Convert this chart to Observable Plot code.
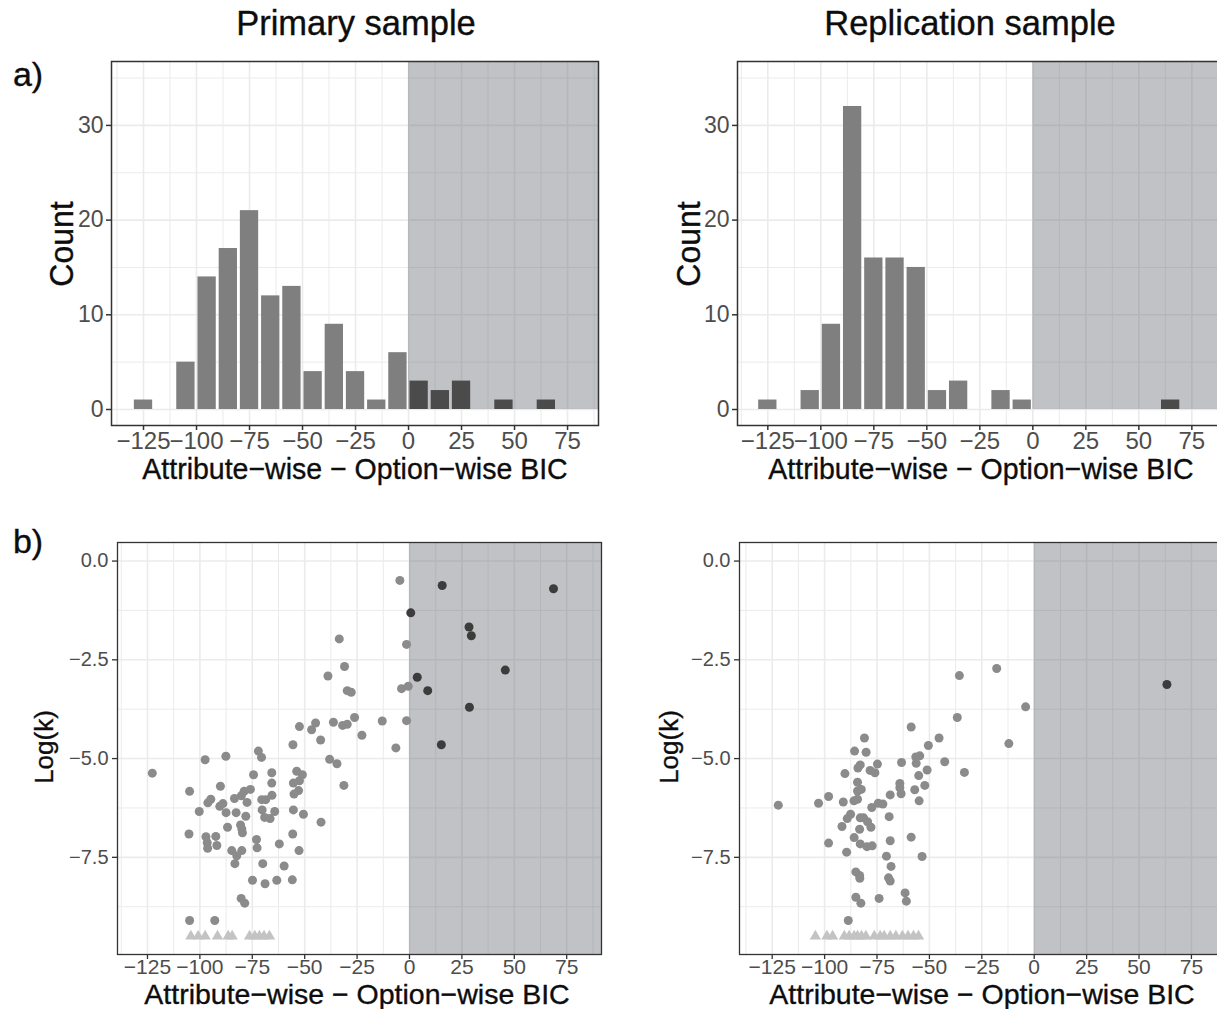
<!DOCTYPE html>
<html><head><meta charset="utf-8">
<script src="https://cdn.jsdelivr.net/npm/d3@7"></script>
<script src="https://cdn.jsdelivr.net/npm/@observablehq/plot@0.6"></script>
<style>
body{margin:0;background:#fff;}
#wrap{position:relative;width:1217px;height:1009px;overflow:hidden;font-family:"Liberation Sans",Arial,Helvetica,sans-serif;background:#fff;}
.t{position:absolute;white-space:nowrap;line-height:1;transform:translate(-50%,-50%) scaleX(var(--sx,1));color:#0d0d0d;-webkit-text-stroke:0.35px #0d0d0d;}
.r{transform:translate(-50%,-50%) rotate(-90deg) scaleX(var(--sx,1));}
.p{position:absolute;}
</style></head><body><div id="wrap"></div>
<script>
// ---------- data ----------
const binWidth = 10;
const binCenters = [-125,-115,-105,-95,-85,-75,-65,-55,-45,-35,-25,-15,-5,5,15,25,35,45,55,65];
const primaryCounts     = [1,0,5,14,17,21,12,13,4,9,4,1,6,3,2,3,0,1,0,1];
const replicationCounts = [1,0,2,9,32,16,16,15,2,3,0,2,1,0,0,0,0,0,0,1];

const xMajorTicks = [-125,-100,-75,-50,-25,0,25,50,75];
const xMinorTicks = [-137.5,-112.5,-87.5,-62.5,-37.5,-12.5,12.5,37.5,62.5,87.5];
const countTicks = [0,10,20,30];
const countMinor = [5,15,25,35];
const logkTicks = [0,-2.5,-5,-7.5];
const logkMinor = [-1.25,-3.75,-6.25,-8.75];
const shadeFrom = 0;
const floorLogK = -9.5;

const primaryBIC = [15.6,68.7,0.6,28.4,29.5,45.7,3.7,8.7,28.6,15.2,
 -4.6,-1.4,-33.5,-31,-38.9,-29.7,-27.8,-3.8,-0.6,-52.5,-46.7,-44.8,-36.3,-31.9,-29.7,-26.2,-13,-1.4,-22.7,-42.4,
 -55.6,-6.5,-38.1,-34.6,-31.3,-72.1,-70.6,-87.6,-97.5,-122.7,-104.9,-74.4,-65.7,-65.7,-53.8,-51.1,-52.5,-55.4,-52.9,-55.1,
 -90.2,-75.9,-78.9,-80.2,-83.5,-77.5,-65.6,-70.5,-68.6,-94.8,-96.2,-90.5,-89,-87.5,-100.3,-82.7,-78.1,-70.3,-64.3,-69.1,
 -66.5,-55.4,-50.6,-42.2,-86.8,-80.6,-80,-79.7,-105.2,-97.1,-92.4,-96.5,-91.9,-96.3,-73,-55.7,-62.1,-72.7,-52.7,-84.8,
 -80,-82.4,-83.3,-70,-59.8,-74.9,-68.9,-63.3,-55.9,-80.3,-78.6,-104.9,-92.9];
const primaryLogK = [-0.62,-0.70,-1.31,-1.67,-1.89,-2.76,-2.94,-3.28,-3.70,-4.65,
 -0.49,-2.11,-1.97,-2.67,-2.91,-3.28,-3.32,-3.23,-3.17,-4.19,-4.27,-4.10,-4.08,-4.16,-4.13,-3.96,-4.05,-4.04,-4.41,-4.53,
 -4.65,-4.73,-5.02,-5.13,-5.68,-4.81,-4.97,-4.94,-5.03,-5.37,-5.83,-5.41,-5.36,-5.62,-5.32,-5.41,-5.56,-5.62,-5.81,-5.90,
 -5.70,-5.78,-5.83,-5.94,-6.01,-6.11,-5.93,-6.04,-6.04,-6.03,-6.12,-6.21,-6.14,-6.37,-6.34,-6.37,-6.46,-6.30,-6.34,-6.49,
 -6.52,-6.30,-6.41,-6.61,-6.74,-6.68,-6.78,-6.88,-6.91,-6.98,-6.97,-7.13,-7.20,-7.27,-7.05,-6.91,-7.16,-7.26,-7.33,-7.33,
 -7.33,-7.46,-7.66,-7.66,-7.72,-8.08,-8.17,-8.08,-8.07,-8.54,-8.66,-9.10,-9.10];
const primaryFloorBIC = [-104.3,-100.8,-97.5,-91.6,-86.5,-84.6,-76.3,-73.8,-71.6,-69.4,-66.8];

const replicationBIC = [63.3,
 -17.9,-35.7,-4.1,-36.7,-58.7,-12.1,-45.4,-50.5,-81,-85.7,-80.2,-56.5,-54.6,-56.3,-42.7,-63.3,-74.8,-83,-84.1,-90.3,
 -78.3,-76,-51.1,-55.1,-33.3,-84.3,-64.1,-64.1,-52.2,-84.3,-82.5,-57,-63.5,-68.7,-98.1,-84.3,-86,-91.1,-102.9,-122.1,
 -74.4,-72.2,-77.5,-54.9,-87.6,-89.2,-83,-81.4,-79.5,-77.9,-91.7,-83.3,-69.2,-85.9,-98.1,-83,-79.8,-77.3,-68.7,-58.7,
 -89.5,-70.5,-53.5,-68.3,-85.1,-83.3,-83.2,-69.5,-68.7,-85.1,-82.7,-74,-61.6,-61,-88.7];
const replicationLogK = [-3.125,
 -2.72,-2.90,-3.69,-3.96,-4.20,-4.62,-4.48,-4.67,-4.48,-4.81,-4.84,-4.96,-4.93,-5.12,-5.08,-5.10,-5.14,-5.16,-5.24,-5.38,
 -5.30,-5.36,-5.29,-5.43,-5.35,-5.60,-5.63,-5.74,-5.68,-5.82,-5.78,-5.79,-5.89,-5.92,-5.96,-6.03,-6.07,-6.10,-6.13,-6.18,
 -6.13,-6.15,-6.24,-6.07,-6.41,-6.52,-6.50,-6.50,-6.60,-6.74,-6.72,-6.79,-6.47,-7.00,-7.14,-7.16,-7.23,-7.21,-7.08,-6.99,
 -7.37,-7.47,-7.48,-7.73,-7.87,-7.96,-8.03,-8.02,-8.10,-8.51,-8.66,-8.54,-8.40,-8.61,-9.10];
const replicationFloorBIC = [-104.4,-98.9,-96.2,-90.6,-88.3,-85.9,-84.3,-82.4,-80.3,-76.3,-73.5,-71.6,-68.7,-66,-62.9,-60.2,-57.6,-55.2];

// ---------- styling ----------
const FONT = '"Liberation Sans", Arial, Helvetica, sans-serif';
const BAR_LIGHT = "#7f7f7f", BAR_DARK = "#4b4b4b";
const DOT_LIGHT = "#8b8b8b", DOT_DARK = "#3c3c3c", TRI = "#c3c3c3";
const SHADE = "#61666f", GRID = "#ebebeb", AXIS_TXT = "#4d4d4d", AXIS_LINE = "#333";
const fmtInt = d => d < 0 ? "\u2212" + Math.abs(d) : String(d);
const fmtDec = d => (d < 0 ? "\u2212" : "") + Math.abs(d).toFixed(1);

const wrap = document.getElementById("wrap");
function place(node, left, top) {
  const d = document.createElement("div");
  d.className = "p"; d.style.left = left + "px"; d.style.top = top + "px";
  d.appendChild(node); wrap.appendChild(d);
}
function label(text, x, y, size, rotate, sx) {
  const d = document.createElement("div");
  d.className = "t" + (rotate ? " r" : "");
  d.style.left = x + "px"; d.style.top = y + "px"; d.style.fontSize = size + "px";
  if (sx) d.style.setProperty("--sx", sx);
  d.textContent = text; wrap.appendChild(d);
}

function grids(yMaj, yMin) {
  return [
    Plot.gridX(xMinorTicks, {stroke: GRID, strokeOpacity: 1, strokeWidth: 1}),
    Plot.gridX(xMajorTicks, {stroke: GRID, strokeOpacity: 1, strokeWidth: 1.6}),
    Plot.gridY(yMin, {stroke: GRID, strokeOpacity: 1, strokeWidth: 1}),
    Plot.gridY(yMaj, {stroke: GRID, strokeOpacity: 1, strokeWidth: 1.6})
  ];
}

function histogram(counts, xd) {
  const yd = [-1.69, 36.75];
  const rows = binCenters.map((c, i) => ({x1: c - binWidth / 2, x2: c + binWidth / 2, n: counts[i], pos: c > shadeFrom}))
    .filter(d => d.n > 0);
  return Plot.plot({
    width: 610, height: 440,
    marginLeft: 111, marginRight: 12, marginTop: 6, marginBottom: 70,
    x: {domain: xd}, y: {domain: yd},
    style: {fontFamily: FONT, background: "transparent", maxWidth: "none", overflow: "visible"},
    marks: [
      ...grids(countTicks, countMinor),
      Plot.rect([shadeFrom], {x1: d => d, x2: () => xd[1], y1: () => 0, y2: () => yd[1], fill: SHADE, fillOpacity: 0.4}),
      Plot.rect(rows, {x1: "x1", x2: "x2", y1: () => 0, y2: "n", fill: d => d.pos ? BAR_DARK : BAR_LIGHT, insetLeft: 1.45, insetRight: 1.45}),
      Plot.frame({stroke: AXIS_LINE, strokeWidth: 1.5}),
      Plot.axisX(xMajorTicks, {tickSize: 5, tickPadding: 1, fontSize: 24, fill: AXIS_TXT, stroke: AXIS_LINE, strokeWidth: 1.5, tickFormat: fmtInt, label: null}),
      Plot.axisY(countTicks, {tickSize: 5, tickPadding: 3, fontSize: 23, fill: AXIS_TXT, stroke: AXIS_LINE, strokeWidth: 1.5, tickFormat: fmtInt, label: null})
    ]
  });
}

function scatter(bic, logk, floorBic, xd) {
  const yd = [-9.96, 0.47];
  const pts = bic.map((x, i) => ({x, y: logk[i]}));
  const tris = floorBic.map(x => ({x, y: floorLogK}));
  return Plot.plot({
    width: 613, height: 460,
    marginLeft: 117, marginRight: 12, marginTop: 12, marginBottom: 36,
    x: {domain: xd}, y: {domain: yd},
    style: {fontFamily: FONT, background: "transparent", maxWidth: "none", overflow: "visible"},
    marks: [
      ...grids(logkTicks, logkMinor),
      Plot.rect([shadeFrom], {x1: d => d, x2: () => xd[1], y1: () => yd[0], y2: () => yd[1], fill: SHADE, fillOpacity: 0.4}),
      Plot.dot(tris, {x: "x", y: "y", symbol: "triangle", r: 4.2, fill: TRI, stroke: "none"}),
      Plot.dot(pts.filter(d => d.x <= shadeFrom), {x: "x", y: "y", r: 4.5, fill: DOT_LIGHT, stroke: "none"}),
      Plot.dot(pts.filter(d => d.x > shadeFrom), {x: "x", y: "y", r: 4.5, fill: DOT_DARK, stroke: "none"}),
      Plot.frame({stroke: AXIS_LINE, strokeWidth: 1.3}),
      Plot.axisX(xMajorTicks, {tickSize: 5, tickPadding: 0, fontSize: 21, fill: AXIS_TXT, stroke: AXIS_LINE, strokeWidth: 1.3, tickFormat: fmtInt, label: null}),
      Plot.axisY(logkTicks, {tickSize: 5, tickPadding: 4, fontSize: 20, fill: AXIS_TXT, stroke: AXIS_LINE, strokeWidth: 1.3, tickFormat: fmtDec, label: null})
    ]
  });
}

place(histogram(primaryCounts, [-140.1, 89.6]), 0, 55);
place(histogram(replicationCounts, [-139.3, 90.4]), 626, 55);
place(scatter(primaryBIC, primaryLogK, primaryFloorBIC, [-139.3, 91.6]), 0, 530);
place(scatter(replicationBIC, replicationLogK, replicationFloorBIC, [-140.6, 90.3]), 622, 530);

const xTitle = "Attribute\u2212wise \u2212 Option\u2212wise BIC";
label("Primary sample", 356, 23, 34.5);
label("Replication sample", 970, 23, 34.5);
label("a)", 28, 74, 34);
label("b)", 28, 541, 34);
label("Count", 61, 244, 33, true, 0.97);
label("Count", 688, 244, 33, true, 0.97);
label(xTitle, 355, 469, 30, false, 0.95);
label(xTitle, 981, 469, 30, false, 0.95);
label("Log(k)", 44, 747, 26, true);
label("Log(k)", 669, 747, 26, true);
label(xTitle, 357, 994, 28.5, false, 1);
label(xTitle, 982, 994, 28.5, false, 1);
</script></body></html>
